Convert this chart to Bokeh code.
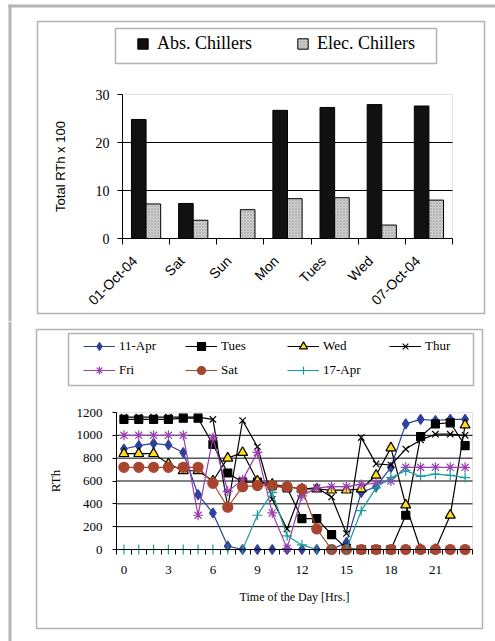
from bokeh.plotting import figure
from bokeh.layouts import column
from bokeh.models import FixedTicker, Legend, LegendItem, BoxAnnotation, Range1d, LinearAxis
from bokeh.embed import file_html
from bokeh.resources import INLINE
import math

# ---------------- data: top chart ----------------
days = ["01-Oct-04", "Sat", "Sun", "Mon", "Tues", "Wed", "07-Oct-04"]
abs_chillers = [24.8, 7.3, 0.0, 26.7, 27.3, 27.9, 27.6]
elec_chillers = [7.2, 3.8, 6.0, 8.3, 8.5, 2.8, 8.0]
top_y_ticks = [0, 10, 20, 30]
top_grid = [10, 20]

# ---------------- data: bottom chart ----------------
hours = list(range(24))
apr11 = [880, 910, 930, 915, 850, 480, 320, 30, 0, 0, 0, 0, 0, 0, 0, 60,
         500, 550, 720, 1100, 1140, 1130, 1140, 1140]
tues = [1140, 1140, 1140, 1140, 1150, 1150, 920, 670, 590, 590, 560, 540,
        270, 270, 130, 10, 0, 0, 0, 300, 990, 1100, 1110, 910]
wed = [840, 840, 840, 750, 690, 690, 600, 800, 850, 600, 570, 550,
       530, 530, 520, 520, 530, 650, 890, 390, 0, 0, 300, 1090]
thur = [1160, 1160, 1160, 1160, 1160, 1160, 1140, 370, 1130, 900, 440, 180,
        530, 540, 460, 140, 980, 750, 740, 880, 960, 1010, 1010, 1000]
fri = [1000, 1000, 1000, 1000, 1000, 300, 980, 510, 610, 850, 320, 10,
       470, 540, 550, 550, 570, 580, 600, 720, 720, 720, 720, 720]
sat = [720, 720, 720, 720, 720, 720, 580, 370, 550, 560, 560, 550,
       530, 180, 0, 0, 0, 0, 0, 0, 0, 0, 0, 0]
apr17 = [0, 0, 0, 0, 0, 0, 0, 0, 0, 300, 500, 120,
         40, 0, 0, 0, 340, 540, 630, 690, 640, 660, 650, 630]
series_names = ["11-Apr", "Tues", "Wed", "Thur", "Fri", "Sat", "17-Apr"]
bottom_x_ticks = [0, 3, 6, 9, 12, 15, 18, 21]
bottom_y_ticks = [0, 200, 400, 600, 800, 1000, 1200]
bottom_grid = [200, 400, 600, 800, 1000]

W = 495
SERIF = "Liberation Serif"
SANS = "Liberation Sans"
GRAY = "#b4b4b4"


def canvas_box(plot, l, r, t, b, **kw):
    box = BoxAnnotation(left=l, right=r, top=t, bottom=b,
                        left_units="canvas", right_units="canvas",
                        top_units="canvas", bottom_units="canvas", **kw)
    plot.add_layout(box)
    return box


def style_axis(ax, font, size):
    ax.axis_line_color = "black"
    ax.axis_line_width = 1
    ax.major_label_text_font = font
    ax.major_label_text_font_size = size
    ax.major_label_text_color = "black"
    ax.axis_label_text_font_style = "normal"
    ax.axis_label_text_color = "black"


# ================= TOP CHART =================
# plot area occupies canvas pixels x 122..452, y 94..238 of a 495x321 canvas
H1 = 321
n = len(days)
kx1 = (452 - 122) / n
ky1 = (238 - 94) / 30
p1 = figure(width=W, height=H1,
            x_range=Range1d(-122 / kx1, n + (W - 452) / kx1),
            y_range=Range1d(-(H1 - 238) / ky1, 30 + 94 / ky1),
            output_backend="svg", toolbar_location=None,
            x_axis_location=None, y_axis_location=None, min_border=0)
p1.background_fill_color = "white"
p1.border_fill_color = "white"
p1.outline_line_color = None
p1.grid.visible = False

# plot-area outline (grey) and gridlines
p1.add_layout(BoxAnnotation(left=0, right=n, bottom=0, top=30, fill_alpha=0,
                            line_color="#a0a0a0", line_width=1, level="underlay"))
p1.segment(x0=[0] * len(top_grid), x1=[n] * len(top_grid), y0=top_grid, y1=top_grid,
           line_color="black", line_width=1)

centers = [i + 0.5 for i in range(n)]
bw = 0.31
r_abs = p1.vbar(x=[c - bw / 2 for c in centers], top=abs_chillers, width=bw,
                fill_color="#111111", line_color="black", line_width=1)
r_elec = p1.vbar(x=[c + bw / 2 for c in centers], top=elec_chillers, width=bw,
                 fill_color="#d6d6d6", line_color="black", line_width=1,
                 hatch_pattern="x", hatch_scale=3, hatch_color="#8c8c8c", hatch_weight=0.5)

label_pos = [c - 0.24 for c in centers]   # rotated labels end a little left of centre
xa = LinearAxis(fixed_location=0, bounds=(0, n))
xa.ticker = FixedTicker(ticks=label_pos, minor_ticks=list(range(n + 1)))
xa.major_label_overrides = {c: d for c, d in zip(label_pos, days)}
xa.major_tick_out = 0
xa.major_tick_in = 0
xa.minor_tick_out = 6
xa.minor_tick_in = 0
xa.minor_tick_line_color = "black"
style_axis(xa, SANS, "14px")
xa.major_label_orientation = math.pi / 4
xa.major_label_standoff = 14
p1.add_layout(xa, "below")

ya = LinearAxis(fixed_location=0, bounds=(0, 30))
ya.ticker = FixedTicker(ticks=top_y_ticks, minor_ticks=[])
ya.major_tick_out = 5
ya.major_tick_in = 0
style_axis(ya, SERIF, "14px")
ya.major_label_standoff = 8
ya.axis_label = "Total RTh x 100"
ya.axis_label_text_font = SANS
ya.axis_label_text_font_size = "13px"
ya.axis_label_standoff = 25
p1.add_layout(ya, "left")

leg1 = Legend(items=[LegendItem(label="Abs. Chillers", renderers=[r_abs]),
                     LegendItem(label="Elec. Chillers", renderers=[r_elec])],
              location=(136, H1 - 54), orientation="horizontal",
              glyph_width=13, glyph_height=13, label_standoff=8, label_width=120,
              spacing=19, padding=0, margin=0,
              label_text_font=SERIF, label_text_font_size="18px", label_text_color="black",
              background_fill_alpha=0, border_line_color=None)
p1.add_layout(leg1, "center")

canvas_box(p1, 8, 11, 4, H1, fill_color=GRAY, fill_alpha=1, line_color=None)
canvas_box(p1, 8, W, 4, 7, fill_color=GRAY, fill_alpha=1, line_color=None)
canvas_box(p1, 37, 484, 21, 313, fill_alpha=0, line_color="black", line_width=1.5)
canvas_box(p1, 115, 436, 28, 63, fill_alpha=0, line_color="black", line_width=1.5)

# ================= BOTTOM CHART =================
# plot area occupies canvas pixels x 116..472, y 91..228 of a 495x320 canvas
H2 = 320
x0b, x1b = -0.5, 23.5
kx2 = (472 - 116) / (x1b - x0b)
ky2 = (228 - 91) / 1200
p2 = figure(width=W, height=H2,
            x_range=Range1d(x0b - 116 / kx2, x1b + (W - 472) / kx2),
            y_range=Range1d(-(H2 - 228) / ky2, 1200 + 91 / ky2),
            output_backend="svg", toolbar_location=None,
            x_axis_location=None, y_axis_location=None, min_border=0)
p2.background_fill_color = "white"
p2.border_fill_color = "white"
p2.outline_line_color = None
p2.grid.visible = False

p2.add_layout(BoxAnnotation(left=x0b, right=x1b, bottom=0, top=1200, fill_alpha=0,
                            line_color="#a0a0a0", line_width=1, level="underlay"))
p2.segment(x0=[x0b] * len(bottom_grid), x1=[x1b] * len(bottom_grid),
           y0=bottom_grid, y1=bottom_grid, line_color="black", line_width=1)

styles = [
    dict(color="#2f419c", marker="diamond", size=10, fill="#2f419c"),
    dict(color="black", marker="square", size=8, fill="black"),
    dict(color="black", marker="triangle", size=10, fill="#ffdf1a"),
    dict(color="black", marker="x", size=9, fill=None),
    dict(color="#9a3fae", marker="asterisk", size=10, fill=None),
    dict(color="#a9452f", marker="circle", size=10, fill="#a9452f"),
    dict(color="#1b9c9c", marker="cross", size=10, fill=None),
]
all_series = [apr11, tues, wed, thur, fri, sat, apr17]
items = []
for name, vals, st in zip(series_names, all_series, styles):
    ln = p2.line(hours, vals, line_color=st["color"], line_width=1.2)
    sc = p2.scatter(hours, vals, marker=st["marker"], size=st["size"],
                    line_color=st["color"], line_width=1.2,
                    fill_color=st["fill"] if st["fill"] else None)
    items.append(LegendItem(label=name, renderers=[ln, sc]))

xb = LinearAxis(fixed_location=0, bounds=(x0b, x1b))
xb.ticker = FixedTicker(ticks=bottom_x_ticks, minor_ticks=[h - 0.5 for h in hours] + [x1b])
xb.major_tick_out = 0
xb.major_tick_in = 0
xb.minor_tick_out = 5
xb.minor_tick_in = 0
xb.minor_tick_line_color = "black"
style_axis(xb, SERIF, "13px")
xb.major_label_standoff = 11
xb.axis_label = "Time of the Day [Hrs.]"
xb.axis_label_text_font = SERIF
xb.axis_label_text_font_size = "12px"
xb.axis_label_standoff = 13
p2.add_layout(xb, "below")

yb = LinearAxis(fixed_location=x0b, bounds=(0, 1200))
yb.ticker = FixedTicker(ticks=bottom_y_ticks, minor_ticks=[])
yb.major_tick_out = 4
yb.major_tick_in = 0
style_axis(yb, SERIF, "13px")
yb.major_label_standoff = 10
yb.axis_label = "RTh"
yb.axis_label_text_font = SERIF
yb.axis_label_text_font_size = "13px"
yb.axis_label_standoff = 11
p2.add_layout(yb, "left")

leg2 = Legend(items=items, location=(83, H2 - 59), orientation="horizontal", ncols=4,
              glyph_width=32, glyph_height=20, label_standoff=4, label_width=62,
              spacing=4, padding=0, margin=0,
              label_text_font=SERIF, label_text_font_size="13px", label_text_color="black",
              background_fill_alpha=0, border_line_color=None)
p2.add_layout(leg2, "center")

canvas_box(p2, 8, 11, 0, H2, fill_color=GRAY, fill_alpha=1, line_color=None)
canvas_box(p2, 36, 482, 8, 307, fill_alpha=0, line_color="black", line_width=1.5)
canvas_box(p2, 68, 473, 12, 64, fill_alpha=0, line_color="black", line_width=1.5)

layout = column(p1, p2, spacing=0)
open("out.html", "w").write(file_html(layout, INLINE))
